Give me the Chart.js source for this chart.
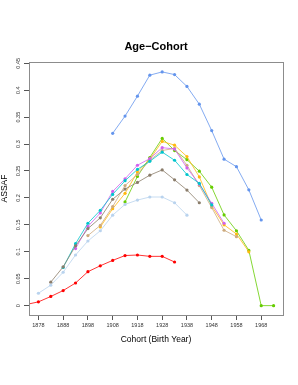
<!DOCTYPE html>
<html>
<head>
<meta charset="utf-8">
<script src="https://cdn.jsdelivr.net/npm/chart.js@4/dist/chart.umd.min.js"></script>
<style>
html,body{margin:0;padding:0;background:#fff;}
canvas{display:block;}
</style>
</head>
<body>
<canvas id="c" width="298" height="385"></canvas>
<script>
// Cohort birth years (x categories)
const cohortYears = [1873,1878,1883,1888,1893,1898,1903,1908,1913,1918,1923,1928,1933,1938,1943,1948,1953,1958,1963,1968,1973];
// x-axis tick labels
const xTickLabels = [1878,1888,1898,1908,1918,1928,1938,1948,1958,1968];
// y-axis tick labels
const yTickLabels = [0,0.05,0.1,0.15,0.2,0.25,0.3,0.35,0.4,0.45];

// Series values (ASSAF) by cohort, null where absent
const seriesRed      = [0.002,0.007,0.017,0.028,0.042,0.063,0.074,0.084,0.093,0.094,0.0915,0.0915,0.081,null,null,null,null,null,null,null,null];
const seriesLightBlue= [null,0.023,0.038,0.062,0.094,0.120,0.139,0.168,0.188,0.196,0.2017,0.2017,0.191,0.168,null,null,null,null,null,null,null];
const seriesBrown    = [null,null,0.0436,0.072,0.111,0.143,0.163,0.1975,0.2165,0.2288,0.2422,0.252,0.2336,0.2146,0.191,null,null,null,null,null,null];
const seriesCyan     = [null,null,null,0.071,0.115,0.153,0.177,0.2065,0.232,0.253,0.268,0.285,0.270,0.2435,0.227,0.187,null,null,null,null,null];
const seriesMagenta  = [null,null,null,null,0.106,0.147,0.172,0.212,0.2355,0.2607,0.273,0.2934,0.2908,0.2557,0.2257,0.190,0.153,null,null,null,null];
const seriesTan      = [null,null,null,null,null,0.130,0.149,0.184,0.223,0.2435,0.270,0.288,0.292,0.2607,0.223,0.182,0.140,0.128,null,null,null];
const seriesOrange   = [null,null,null,null,null,null,0.146,0.180,0.2085,0.248,0.272,0.305,0.298,0.2767,0.239,0.185,0.150,0.133,0.100,null,null];
const seriesBlue     = [null,null,null,null,null,null,null,0.320,0.352,0.389,0.428,0.434,0.429,0.407,0.374,0.325,0.272,0.258,0.215,0.159,null];
const seriesGreen    = [null,null,null,null,null,null,null,null,0.1925,0.240,0.275,0.3105,0.288,0.271,0.2496,0.220,0.1684,0.139,0.1026,0,0];

const seriesList = [
  {vals: seriesRed, color: '#FF0000'},
  {vals: seriesLightBlue, color: '#B9D3EE'},
  {vals: seriesBrown, color: '#8B7D6B'},
  {vals: seriesCyan, color: '#00C5CD'},
  {vals: seriesMagenta, color: '#D15FEE'},
  {vals: seriesTan, color: '#CDAA7D'},
  {vals: seriesOrange, color: '#FFB90F'},
  {vals: seriesBlue, color: '#6495ED'},
  {vals: seriesGreen, color: '#66CD00'}
];

function toPoints(vals){
  const pts = [];
  vals.forEach((v,i)=>{ if(v!==null) pts.push({x: cohortYears[i], y: v}); });
  return pts;
}

const datasets = seriesList.map(s => ({
  data: toPoints(s.vals),
  borderColor: s.color,
  backgroundColor: s.color,
  borderWidth: 0.8,
  pointStyle: 'circle',
  pointRadius: 1.6,
  pointBorderWidth: 0,
  pointBackgroundColor: s.color,
  tension: 0
}));

const FONT = "'Liberation Sans', Arial, Helvetica, sans-serif";

const framePlugin = {
  id: 'frame',
  afterDraw(chart){
    const {ctx, chartArea: a} = chart;
    ctx.save();
    ctx.strokeStyle = '#8c8c8c';
    ctx.lineWidth = 1;
    ctx.strokeRect(Math.round(a.left)+0.5, Math.round(a.top)+0.5, Math.round(a.right-a.left), Math.round(a.bottom-a.top));
    ctx.fillStyle = '#000';
    ctx.font = "bold 11px " + FONT;
    ctx.textAlign = 'center';
    ctx.textBaseline = 'middle';
    ctx.fillText('Age\u2212Cohort', (a.left+a.right)/2, 47);
    ctx.restore();
  }
};

new Chart(document.getElementById('c'), {
  type: 'line',
  data: { datasets },
  plugins: [framePlugin],
  options: {
    responsive: false,
    animation: false,
    devicePixelRatio: 1,
    layout: { padding: { left: 0, right: 15, top: 62, bottom: 0 } },
    plugins: { legend: { display: false }, title: { display: false }, tooltip: { enabled: false } },
    scales: {
      x: {
        type: 'linear',
        min: 1874.2,
        max: 1976.8,
        afterFit: s => { s.height = 70; },
        afterBuildTicks: s => { s.ticks = xTickLabels.map(v => ({value: v})); },
        grid: { drawOnChartArea: false, drawTicks: true, tickLength: 5, color: '#555' },
        border: { display: false },
        ticks: {
          autoSkip: false, maxRotation: 0, minRotation: 0, padding: 2,
          color: '#333', font: { family: FONT, size: 5.5 },
          callback: v => String(v)
        },
        title: {
          display: true, text: 'Cohort (Birth Year)', color: '#000',
          font: { family: FONT, size: 8.5 }, padding: { top: 0, bottom: 40 }
        }
      },
      y: {
        type: 'linear',
        min: -0.0174,
        max: 0.4524,
        afterFit: s => { s.width = 29; },
        afterBuildTicks: s => { s.ticks = yTickLabels.map(v => ({value: v})); },
        grid: { drawOnChartArea: false, drawTicks: true, tickLength: 5, color: '#555' },
        border: { display: false },
        ticks: {
          autoSkip: false, minRotation: 90, maxRotation: 90, crossAlign: 'center', padding: 0,
          color: '#333', font: { family: FONT, size: 5.5 },
          callback: v => String(+v.toFixed(2))
        },
        title: {
          display: true, text: 'ASSAF', color: '#000',
          font: { family: FONT, size: 8.5 }, padding: { top: 0, bottom: 0 }
        }
      }
    }
  }
});
</script>
</body>
</html>
